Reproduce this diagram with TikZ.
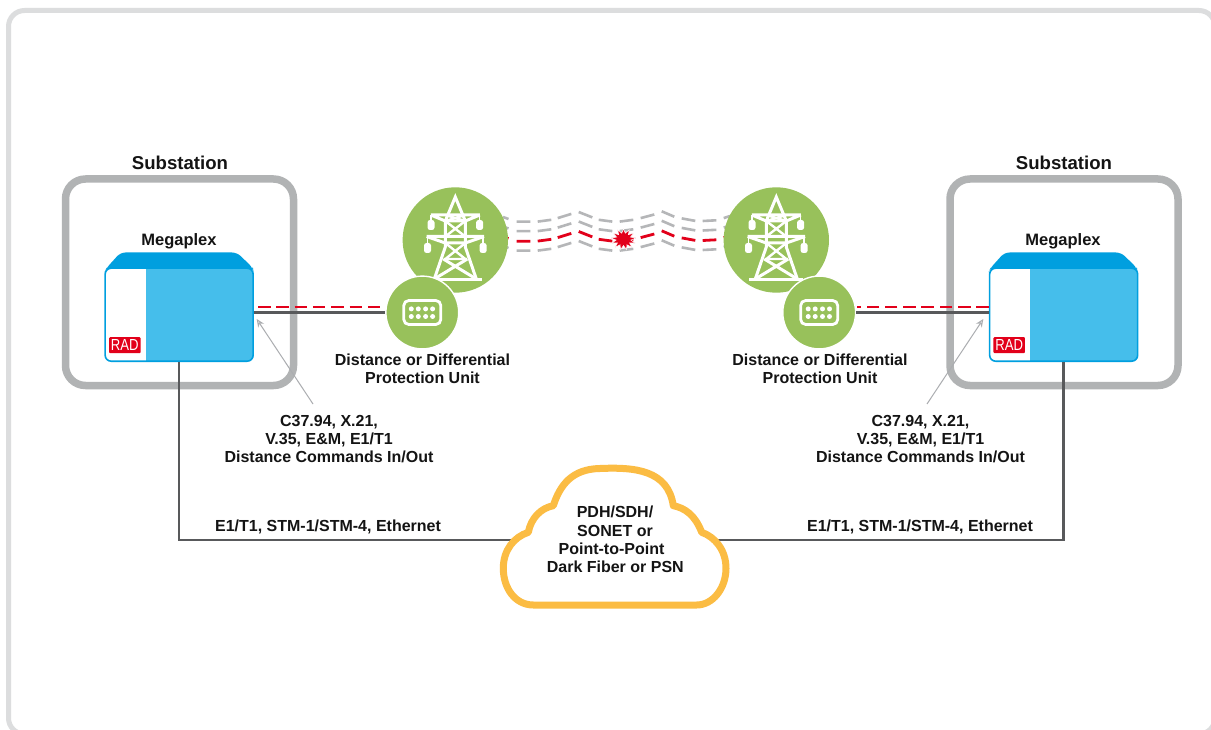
\documentclass[tikz,border=0pt]{standalone}
\usepackage{fontspec}
\setmainfont{Liberation Sans}
\usetikzlibrary{arrows.meta,shapes.geometric,calc}
\definecolor{framegray}{HTML}{DCDDDE}
\definecolor{boxgray}{HTML}{B1B3B4}
\definecolor{wiregray}{HTML}{58595B}
\definecolor{wavegray}{HTML}{B5B6B8}
\definecolor{arrowgray}{HTML}{ABADB0}
\definecolor{linkred}{HTML}{E2001A}
\definecolor{leaf}{HTML}{98C15B}
\definecolor{devdark}{HTML}{009FDF}
\definecolor{devlight}{HTML}{45BEEB}
\definecolor{cloudy}{HTML}{FBBC43}
\newcommand{\lbl}{\fontsize{16}{18}\selectfont\bfseries}
\newcommand{\ttl}{\fontsize{18.6}{18}\selectfont\bfseries}
\newcommand{\mpx}{\fontsize{16.5}{18}\selectfont\bfseries}
\newcommand{\wavepath}{%
  (503,217)--(508.5,219) (516.7,221.7)--(530.3,221.7) (537.7,221.6)--(551.3,219.8)
  (557.7,218.1)--(571.3,213.9) (578.7,212)--(592.3,217.4) (598.7,219.8)--(612.3,221.6)
  (619.7,221.6)--(633.3,219.8) (640.7,218.1)--(654.3,214.5) (661.7,211.3)--(674.3,216.7)
  (681.7,218.4)--(695.3,220.9) (702.7,221)--(716.3,220.3) (723.7,218.1)--(730,216)}
\newcommand{\towericon}[1]{%
  \begin{scope}[shift={(#1)},draw=white,line width=3pt,line join=miter]
    \draw (-21,39)--(-10,7)--(-10,-19)--(0,-43)--(10,-19)--(10,7)--(21,39);
    \draw (-27,39.5)--(27,39.5);
    \draw (-24.5,-25)--(24.5,-25) (-24.5,-25)--(-10,-19)--(10,-19)--(24.5,-25);
    \draw (-28.7,-3.5)--(28.7,-3.5) (-28.7,-3.5)--(-10,3)--(10,3)--(28.7,-3.5);
    \draw[line width=2.4pt] (-10,-19)--(10,-3.5) (10,-19)--(-10,-3.5) (-10,-25)--(10,-19) (10,-25)--(-10,-19);
    \draw[line width=2.4pt] (-10,3)--(10,19) (10,3)--(-10,19) (-10,19)--(10,19);
    \draw (-12,19)--(21,39) (12,19)--(-21,39);
    \foreach \sx in {-1,1}{
      \draw[line width=1.6pt] (\sx*24.3,-25)--(\sx*24.3,-18);
      \draw[line width=1.6pt] (\sx*27.8,-3.5)--(\sx*27.8,3);
      \fill[white,rounded corners=2.5pt] (\sx*24.3-3.5,-20) rectangle (\sx*24.3+3.5,-10);
      \fill[white,rounded corners=2.5pt] (\sx*27.8-3.5,3) rectangle (\sx*27.8+3.5,13);
    }
  \end{scope}}
\newcommand{\porticon}[1]{%
  \begin{scope}[shift={(#1)}]
    \draw[white,line width=2.8pt,rounded corners=5pt] (-18.5,-12) rectangle (18.5,12);
    \foreach \px in {-11,-4,3.3,10.3}\foreach \py in {-3.6,4}
      \fill[white] (\px,\py) circle (2.5);
  \end{scope}}
\tikzset{
  x=1pt,y=-1pt,
  framebox/.style={draw=boxgray,line width=7.5pt,rounded corners=20pt},
  devbody/.style={draw=devdark,line width=1.6pt,fill=devlight,rounded corners=6pt,
    minimum width=148pt,minimum height=93pt,inner sep=0pt,
    path picture={\fill[white,sharp corners] (path picture bounding box.south west) rectangle
      ([xshift=40.5pt]path picture bounding box.north west);}},
  logo/.style={fill=linkred,text=white,rounded corners=1pt,minimum width=31.5pt,minimum height=16pt,
    inner sep=0pt,font=\fontsize{16}{16}\selectfont},
  towerdisc/.style={circle,fill=leaf,minimum size=105.4pt,inner sep=0pt},
  unitdisc/.style={circle,fill=leaf,draw=white,line width=1.4pt,minimum size=72.8pt,inner sep=0pt},
  wire/.style={draw=wiregray,line width=2.4pt},
  reddash/.style={draw=linkred,line width=2.2pt,dash pattern=on 12.5pt off 5.8pt},
  wavedash/.style={draw=wavegray,line width=2.6pt},
  pointer/.style={draw=arrowgray,line width=1pt,-{Stealth[length=8pt,width=7pt,fill=white]}},
  txt/.style={align=center,inner sep=0pt,font=\lbl,text=black!92},
  tlt/.style={inner sep=0pt,font=\ttl,text=black!92},
  mp/.style={inner sep=0pt,font=\mpx,text=black!92}
}
\begin{document}
\begin{tikzpicture}
\useasboundingbox (0,0) rectangle (1211,730);
\clip (0,0) rectangle (1211,730);
\fill[white] (0,0) rectangle (1211,730);
\draw[framegray,line width=5pt,rounded corners=16pt] (8.5,10.5) rectangle (1215,734);

% substations
\draw[framebox] (65.5,179) rectangle (293.5,385.5);
\draw[framebox] (950,179) rectangle (1178,385.5);
\node[tlt] (subL) at (180,163) {Substation};
\node[tlt] (subR) at (1064,163) {Substation};
\node[mp] (mpL) at (179,241) {Megaplex};
\node[mp] (mpR) at (1063,241) {Megaplex};

% devices
\fill[devdark,rounded corners=5pt] (104.5,272)--(106.5,268)--(120.5,252.5)--(237,252.5)--(253,268)--(253.5,272)--cycle;
\fill[devdark,rounded corners=5pt] (988.5,272)--(990.5,268)--(1004.5,252.5)--(1121,252.5)--(1137,268)--(1137.5,272)--cycle;
\node[devbody] (devL) at (179.15,314.7) {};
\node[devbody] (devR) at (1063.65,314.7) {};
\node[logo] (radL) at (124.8,345.2) {\scalebox{.82}[1]{RAD}};
\node[logo] (radR) at (1009.2,345.2) {\scalebox{.82}[1]{RAD}};

% waves
\draw[wavedash] \wavepath;
\draw[wavedash,yshift=-9.5pt] \wavepath;
\draw[wavedash,yshift=-29pt] \wavepath;
\draw[wavedash,draw=linkred,line width=2.8pt,yshift=-19.5pt] \wavepath;
\node[star,star points=13,star point ratio=1.7,fill=linkred,draw=white,line width=.5pt,minimum size=25pt,inner sep=0pt,yscale=.85] (fault) at (623.5,239.3) {};

% towers and units
\node[towerdisc] (towL) at (455.3,240) {};
\node[towerdisc] (towR) at (776.3,240) {};
\towericon{455.3,240}
\towericon{776.3,240}
\node[unitdisc] (unitL) at (422.3,312.5) {};
\node[unitdisc] (unitR) at (819.2,312.5) {};
\porticon{422.3,312.5}
\porticon{819.2,312.5}

% connectors
\coordinate (cloudW) at (540,540);
\coordinate (cloudE) at (690,540);
\draw[wire] (devL.east |- unitL.west) -- (unitL.west);
\draw[wire] (devR.west |- unitR.east) -- (unitR.east);
\draw[reddash] (258,306.7) -- (unitL.west |- 0,306.7);
\draw[reddash] (devR.west |- 0,306.7) -- (857,306.7);
\draw[wire] (devL.south) |- (cloudW);
\draw[wire] (devR.south) |- (cloudE);

% cloud
\draw[cloudy,fill=white,line width=7pt,line join=round]
  (533.3,605) .. controls (515,605) and (503.3,588) .. (503.3,568.3)
  .. controls (503.3,550) and (514,537) .. (528.3,532.3)
  .. controls (531,518) and (541,508) .. (553.3,505.7)
  .. controls (560,485) and (572,469) .. (600,468.5)
  .. controls (635,467) and (668,470) .. (673.3,505.7)
  .. controls (685,508) and (695,515) .. (701.7,532.3)
  .. controls (715,537) and (726,550) .. (726,568.3)
  .. controls (726,588) and (713,605) .. (696.7,605) -- cycle;
\node[txt] (cl1) at (615,512.3) {PDH/SDH/};
\node[txt] (cl2) at (615,531) {SONET or};
\node[txt] (cl3) at (611.5,549) {Point-to-Point};
\node[txt] (cl4) at (615.3,566.8) {Dark Fiber or PSN};

% labels
\node[txt] (unitTxtL) at (422.5,369) {Distance or Differential\\Protection Unit};
\node[txt] (unitTxtR) at (820,369) {Distance or Differential\\Protection Unit};
\node[txt] (ifL) at (329,439) {C37.94, X.21,\\V.35, E\&M, E1/T1\\Distance Commands In/Out};
\node[txt] (ifR) at (920.5,439) {C37.94, X.21,\\V.35, E\&M, E1/T1\\Distance Commands In/Out};
\node[txt] (lnkL) at (328,527) {E1/T1, STM-1/STM-4, Ethernet};
\node[txt] (lnkR) at (920,527) {E1/T1, STM-1/STM-4, Ethernet};

% pointers
\coordinate (ptrL) at (313,404);
\coordinate (ptrR) at (927,404);
\draw[pointer] (ptrL) -- (256.7,319);
\draw[pointer] (ptrR) -- (983.3,319);
\end{tikzpicture}
\end{document}
